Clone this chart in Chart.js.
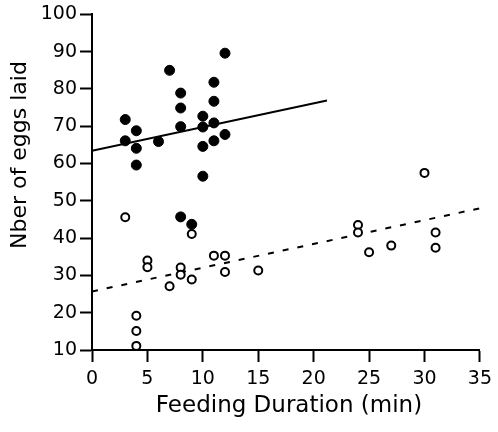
<!DOCTYPE html>
<html>
<head>
<meta charset="utf-8">
<script src="https://cdn.jsdelivr.net/npm/chart.js@4/dist/chart.umd.min.js"></script>
<style>
  html, body { margin: 0; padding: 0; background: #fff; }
  #wrap { width: 498px; height: 432px; }
</style>
</head>
<body>
<div id="wrap"><canvas id="chart" width="498" height="432"></canvas></div>
<script>
// feeding duration (min) vs eggs laid
const filledX = [3, 3, 4, 4, 4, 6, 7, 8, 8, 8, 8, 9, 10, 10, 10, 10, 11, 11, 11, 11, 12, 12];
const filledY = [71.8, 66.1, 68.8, 64.1, 59.6, 65.9, 85, 78.9, 74.9, 69.9, 45.7, 43.7, 72.7, 69.8, 64.6, 56.6, 81.8, 76.7, 70.9, 66.1, 67.8, 89.6];

const openX = [3, 4, 4, 4, 5, 5, 7, 8, 8, 9, 9, 11, 12, 12, 15, 24, 24, 25, 27, 30, 31, 31];
const openY = [45.6, 19.2, 15.1, 11.1, 34, 32.2, 27.1, 32.1, 30.2, 28.9, 41.1, 35.3, 35.3, 30.9, 31.3, 43.5, 41.5, 36.2, 38, 57.5, 41.5, 37.4];

// fitted lines (end points)
const solidFitX = [0, 21.2];
const solidFitY = [63.4, 76.9];
const dashFitX = [0, 35];
const dashFitY = [25.7, 48];

const xTicks = [0, 5, 10, 15, 20, 25, 30, 35];
const yTicks = [10, 20, 30, 40, 50, 60, 70, 80, 90, 100];

const xTitle = 'Feeding Duration (min)';
const yTitle = 'Nber of eggs laid';

const FONT = '"DejaVu Sans", Verdana, sans-serif';

const toPts = (xs, ys) => xs.map((x, i) => ({ x: x, y: ys[i] }));

// axis titles drawn by hand so they sit where the original has them
const axisTitles = {
    id: 'axisTitles',
    afterDraw(chart) {
        const ctx = chart.ctx;
        ctx.save();
        ctx.fillStyle = '#000';
        ctx.font = '23px ' + FONT;
        ctx.textAlign = 'center';
        ctx.textBaseline = 'alphabetic';
        ctx.fillText(xTitle, 289, 412);
        ctx.translate(26, 155);
        ctx.rotate(-Math.PI / 2);
        ctx.font = '22px ' + FONT;
        ctx.fillText(yTitle, 0, 0);
        ctx.restore();
    }
};

const axisStyle = {
    drawOnChartArea: false,
    drawTicks: true,
    tickLength: 12,
    tickWidth: 2,
    tickColor: '#000'
};

new Chart(document.getElementById('chart').getContext('2d'), {
    type: 'scatter',
    data: {
        datasets: [
            {
                label: 'filled',
                data: toPts(filledX, filledY),
                pointRadius: 5,
                pointHoverRadius: 5,
                pointBackgroundColor: '#000',
                pointBorderColor: '#000',
                pointBorderWidth: 1,
                clip: false
            },
            {
                label: 'open',
                data: toPts(openX, openY),
                pointRadius: 4,
                pointHoverRadius: 4,
                pointBackgroundColor: '#fff',
                pointBorderColor: '#000',
                pointBorderWidth: 2,
                clip: false
            },
            {
                type: 'line',
                label: 'fit filled',
                data: toPts(solidFitX, solidFitY),
                borderColor: '#000',
                borderWidth: 2,
                pointRadius: 0,
                fill: false
            },
            {
                type: 'line',
                label: 'fit open',
                data: toPts(dashFitX, dashFitY),
                borderColor: '#000',
                borderWidth: 2,
                borderDash: [6, 9],
                pointRadius: 0,
                fill: false
            }
        ]
    },
    options: {
        responsive: false,
        animation: false,
        events: [],
        layout: { padding: { left: 0, right: 15, top: 11, bottom: 0 } },
        plugins: {
            legend: { display: false },
            tooltip: { enabled: false }
        },
        scales: {
            x: {
                type: 'linear',
                min: 0,
                max: 35,
                afterBuildTicks: s => { s.ticks = xTicks.map(v => ({ value: v })); },
                afterFit: s => { s.height = 82; },
                grid: axisStyle,
                border: { color: '#000', width: 2 },
                ticks: { color: '#000', padding: 6, font: { family: FONT, size: 19 } }
            },
            y: {
                type: 'linear',
                min: 10,
                max: 100,
                afterBuildTicks: s => { s.ticks = yTicks.map(v => ({ value: v })); },
                afterFit: s => { s.width = 92; },
                grid: axisStyle,
                border: { color: '#000', width: 2 },
                ticks: { color: '#000', padding: 3, font: { family: FONT, size: 19 } }
            }
        }
    },
    plugins: [axisTitles]
});
</script>
</body>
</html>
